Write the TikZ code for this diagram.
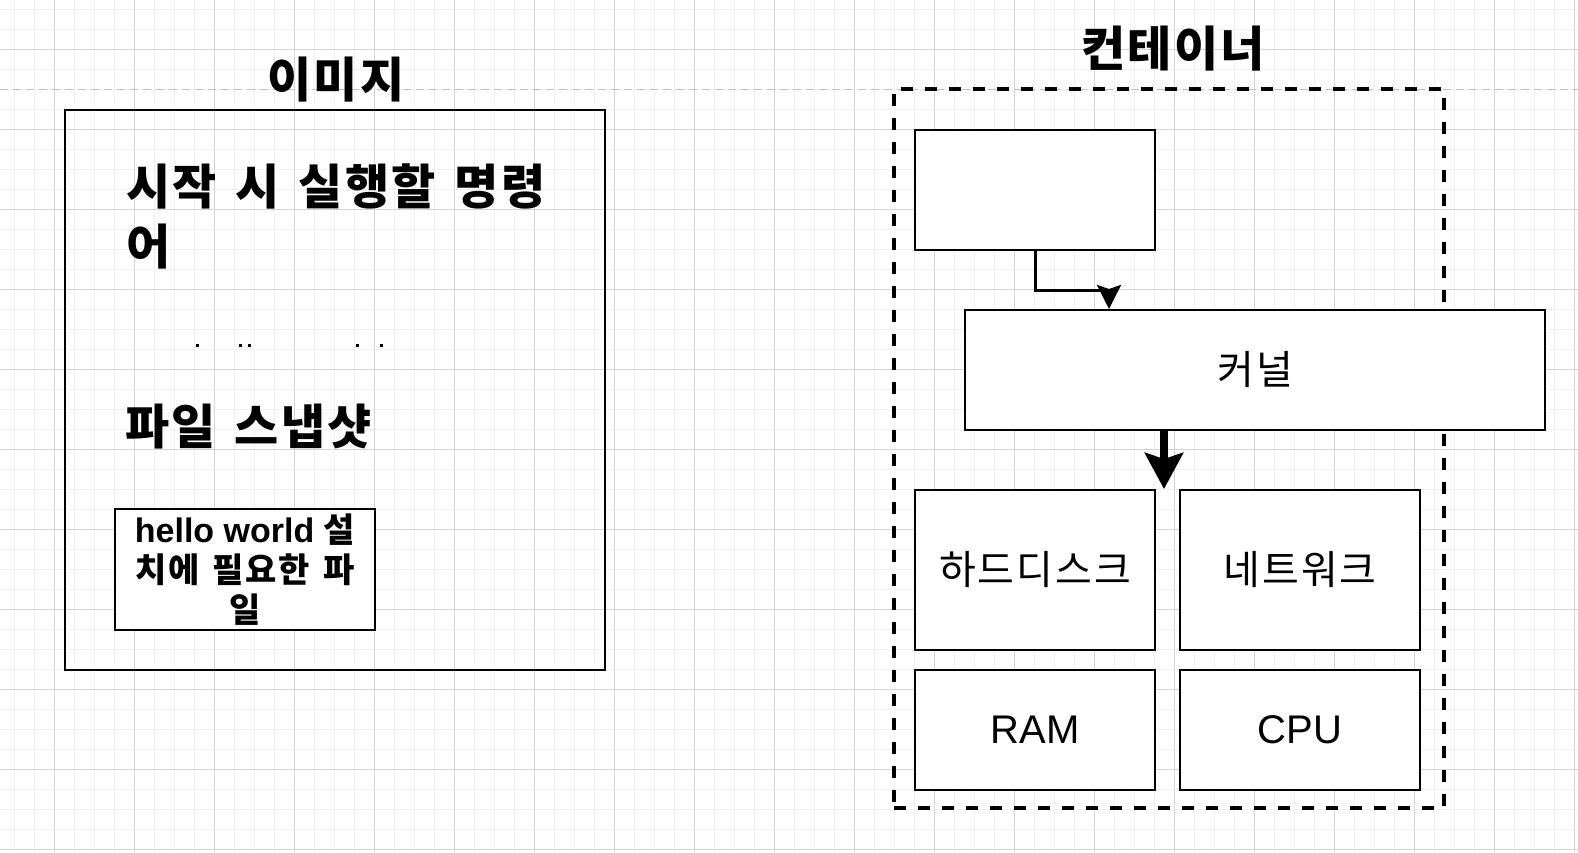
\documentclass[tikz,border=0pt]{standalone}
\usepackage{fontspec}
\setmainfont{Liberation Sans}
\newfontfamily\kr[WordSpace=1.4, LetterSpace=5]{Noto Sans CJK KR}
\usetikzlibrary{arrows.meta}
\definecolor{minorline}{HTML}{F0F0F0}
\definecolor{majorline}{HTML}{D4D4D4}
\definecolor{pageline}{HTML}{C0C0C0}

\begin{document}
\begin{tikzpicture}[x=1pt,y=-1pt,
  minorgrid/.style={minorline, line width=1pt},
  majorgrid/.style={majorline, line width=1pt},
  box/.style={draw, line width=2pt, fill=white, inner sep=0pt},
  label/.style={font=\kr\fontsize{40}{48}\selectfont},
  heading/.style={font=\kr\bfseries\fontsize{48}{60}\selectfont, inner sep=0pt}]

   \useasboundingbox (0,0) rectangle (1578,852);
   \fill[white] (0,0) rectangle (1578,852);
   \foreach \x in {14,34,...,1574}
   \draw[minorgrid] (\x,0) -- (\x,852);
   \foreach \y in {9,29,...,849}
   \draw[minorgrid] (0,\y) -- (1578,\y);
   \foreach \x in {54,134,...,1574}
   \draw[majorgrid] (\x,0) -- (\x,852);
   \foreach \y in {49,129,...,849}
   \draw[majorgrid] (0,\y) -- (1578,\y);
   \draw[pageline, line width=1pt, dash pattern=on 8pt off 5pt] (0,89) -- (1578,89);

   \node[draw, line width=2pt, minimum width=540pt, minimum height=560pt] (img) at (335,390) {};
   \node[heading] (imgtitle) at (336,80) {이미지};
   \node[heading, anchor=north west, align=left] (cmd) at (126,164) {시작 시 실행할 명령\\어};
   \foreach \d in {196,239,248,356,380}
   \fill (\d,344) rectangle ++(3,3);
   \node[heading, anchor=base west] (snap) at (125,444) {파일 스냅샷};
   \node[box, minimum width=260pt, minimum height=121pt, align=center,
     font=\bfseries\fontsize{34}{40}\selectfont] (hello) at (245,569.5)
     {hello world {\kr 설}\\{\kr 치에 필요한 파}\\{\kr 일}};

   \node[draw, line width=3.5pt, dash pattern=on 12pt off 12pt, minimum width=550pt, minimum height=719pt] (cont) at (1169,448.5) {};
   \node[heading] (conttitle) at (1173,49) {컨테이너};
   \node[box, minimum width=240pt, minimum height=120pt] (proc) at (1035,190) {};
   \node[box, label, minimum width=580pt, minimum height=120pt] (kernel) at (1255,370) {커널};
   \node[box, label, minimum width=240pt, minimum height=160pt] (disk) at (1035,570) {하드디스크};
   \node[box, label, minimum width=240pt, minimum height=160pt] (net) at (1300,570) {네트워크};
   \node[box, font=\fontsize{40}{48}\selectfont, minimum width=240pt, minimum height=120pt] (ram) at (1035,730) {RAM};
   \node[box, font=\fontsize{40}{48}\selectfont, minimum width=240pt, minimum height=120pt] (cpu) at (1300,730) {CPU};

   \draw[line width=3pt, -{Stealth[length=24pt,width=24pt,inset=4pt]}] (proc.south) -- ++(0,39) -| ([xshift=-146pt]kernel.north);
   \draw[line width=8pt, -{Stealth[length=36pt,width=38pt,inset=6pt]}] ([xshift=-91pt]kernel.south) -- ([xshift=-91pt]kernel.south |- disk.north);

\end{tikzpicture}
\end{document}
